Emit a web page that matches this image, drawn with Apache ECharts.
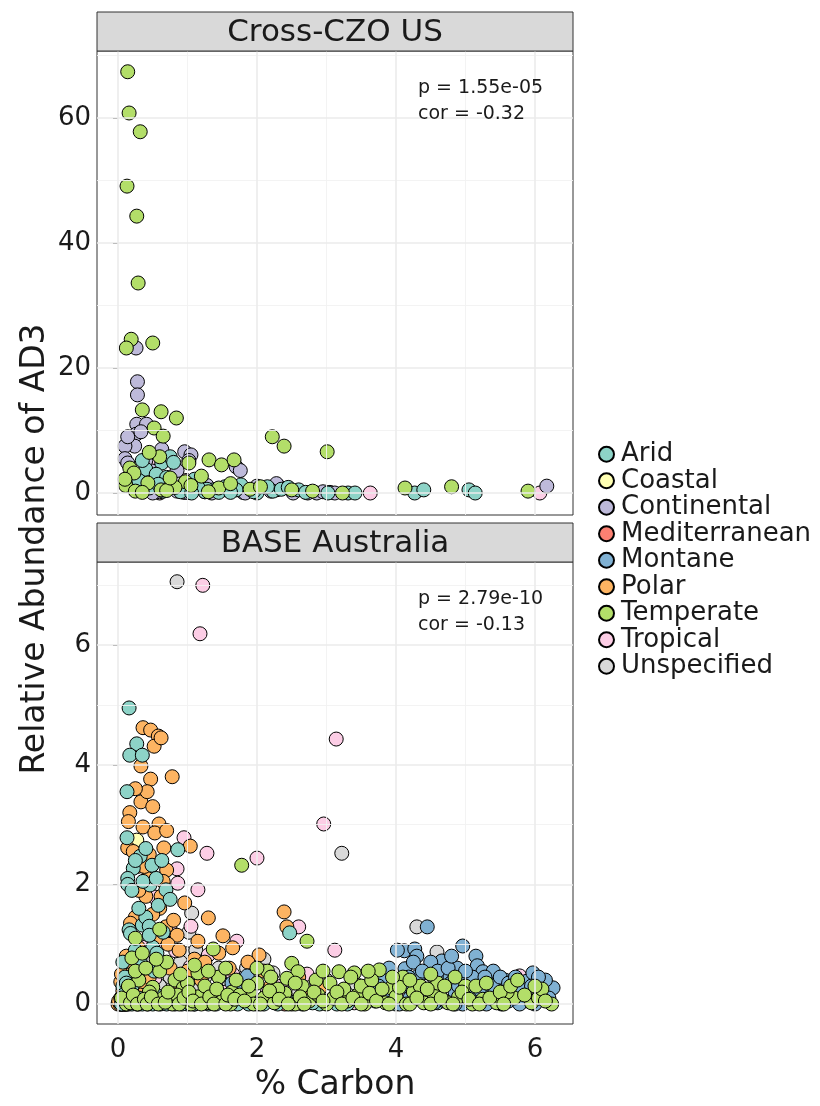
<!DOCTYPE html>
<html>
<head>
<meta charset="utf-8">
<script src="https://cdn.jsdelivr.net/npm/echarts@6/dist/echarts.min.js"></script>
<style>
  html, body { margin: 0; padding: 0; background: #ffffff; }
  #chart { width: 820px; height: 1106px; }
</style>
</head>
<body>
<div id="chart"></div>
<script>
// ---- categories, labels and ticks ----
const climates = ['Arid', 'Coastal', 'Continental', 'Mediterranean', 'Montane', 'Polar', 'Temperate', 'Tropical', 'Unspecified'];
const climateColors = ['#8DD3C7', '#FFFFB3', '#BEBADA', '#FB8072', '#80B1D3', '#FDB462', '#B3DE69', '#FCCDE5', '#D9D9D9'];
const facetTitles = ['Cross-CZO US', 'BASE Australia'];
const statLines = [['p = 1.55e-05', 'cor = -0.32'], ['p = 2.79e-10', 'cor = -0.13']];
const xTitle = '% Carbon';
const yTitle = 'Relative Abundance of AD3';
const xMajor = [0, 2, 4, 6];
const xMinor = [1, 3, 5];
const czoYMajor = [0, 20, 40, 60];
const czoYMinor = [10, 30, 50, 70];
const baseYMajor = [0, 2, 4, 6];
const baseYMinor = [1, 3, 5, 7];

// ---- Cross-CZO US samples: [% carbon, relative abundance] ----
const czoArid = [[0.63,4.8],[0.75,5.8],[0.40,3.8],[0.35,5.2],[0.55,3.0],[0.70,2.5],[0.89,0.5],[0.95,1.0],[1.10,2.2],[1.37,0.5],[1.54,1.0],[1.77,1.3],[1.25,0.2],[1.45,0.1],[1.70,0.5],[2.00,0.0],[2.23,0.3],[2.35,0.6],[2.60,0.5],[2.70,0.1],[3.02,0.0],[3.31,0.0],[3.41,0.0],[4.27,0.0],[4.40,0.5],[5.05,0.5],[5.14,0.0],[0.65,0.3],[0.90,0.2],[1.95,0.2],[1.28,0.6],[0.45,0.8],[2.45,0.9],[1.15,0.9],[0.30,2.0],[0.58,1.4],[0.80,4.9],[1.62,0.1],[1.06,0.0],[2.15,1.0]];
const czoContinental = [[0.26,23.2],[0.28,17.8],[0.28,15.7],[0.27,11.0],[0.26,9.4],[0.24,7.5],[0.10,7.5],[0.14,9.0],[0.41,11.0],[0.63,7.0],[0.10,5.5],[0.14,4.8],[0.40,5.2],[0.50,3.5],[0.18,2.5],[0.85,3.6],[0.96,6.6],[1.05,6.1],[1.02,5.2],[0.72,5.5],[1.28,1.2],[1.55,0.5],[1.80,0.1],[1.95,0.5],[2.28,1.5],[2.52,0.0],[2.73,0.0],[2.86,0.0],[3.05,0.1],[1.70,4.2],[1.76,3.6],[0.30,0.4],[0.60,0.2],[1.00,0.1],[1.35,0.0],[2.00,1.1],[1.83,0.0],[6.17,1.1],[0.85,0.3],[0.50,0.0],[2.95,0.2],[3.12,0.0],[2.20,0.3],[0.33,9.8],[0.45,2.0]];
const czoTemperate = [[0.14,67.4],[0.16,60.8],[0.32,57.8],[0.13,49.1],[0.27,44.3],[0.29,33.6],[0.19,24.6],[0.12,23.2],[0.50,24.0],[0.35,13.3],[0.62,13.0],[0.84,12.0],[0.52,10.4],[0.65,9.1],[0.17,4.0],[0.23,3.2],[0.60,5.8],[1.02,4.8],[1.31,5.3],[1.49,4.5],[1.67,5.3],[2.22,9.0],[2.39,7.5],[3.01,6.6],[0.11,1.2],[0.25,0.3],[0.43,1.6],[0.62,0.5],[0.97,1.8],[1.20,2.7],[0.82,0.9],[1.05,1.2],[1.45,0.8],[1.90,0.6],[2.50,0.5],[3.23,0.0],[4.13,0.8],[4.80,1.0],[5.90,0.3],[0.35,0.1],[0.70,0.4],[1.30,0.2],[1.62,1.5],[2.05,1.0],[2.80,0.3],[0.10,2.2],[0.45,6.5],[0.75,2.4]];
const czoTropical = [[0.40,3.2],[0.48,5.5],[0.98,2.0],[1.25,0.2],[0.60,0.0],[2.30,1.2],[2.28,0.5],[3.63,0.0],[6.07,0.0],[0.95,0.1],[1.80,0.3],[0.30,0.5]];

// ---- BASE Australia samples: [% carbon, relative abundance] ----
const baseArid = [[0.16,4.95],[0.27,4.35],[0.17,4.16],[0.35,4.16],[0.13,3.55],[0.13,2.78],[0.32,2.47],[0.86,2.58],[0.22,2.27],[0.14,2.10],[0.14,2.00],[0.49,2.32],[0.63,2.40],[0.46,1.99],[0.69,1.91],[0.35,1.32],[0.16,1.24],[0.18,1.18],[0.07,0.70],[0.32,0.70],[2.47,1.19],[0.50,0.95],[0.56,0.85],[0.20,0.28],[0.07,0.30],[0.10,0.00],[0.27,0.00],[0.43,0.00],[0.61,0.00],[0.82,0.00],[1.00,0.00],[1.41,0.00],[1.88,0.00],[2.52,0.02],[3.15,0.00],[3.70,0.05],[0.30,0.10],[0.55,0.15],[1.20,0.05],[2.10,0.00],[2.90,0.00],[0.40,1.45],[0.58,1.65],[0.25,2.40],[0.45,1.30],[0.52,0.55],[4.60,0.02],[0.20,0.05],[0.36,2.05],[0.10,0.45],
  [0.05,0.00],[0.15,0.00],[0.20,0.00],[0.35,0.00],[0.50,0.00],[0.70,0.00],[0.92,0.00],[1.10,0.00],[1.30,0.00],[1.55,0.02],[1.72,0.00],[2.00,0.00],[2.30,0.00],[2.65,0.00],[2.80,0.02],[3.30,0.00],[3.50,0.05],[4.00,0.00],[0.08,0.15],[0.12,0.35],[0.25,0.90],[0.30,1.60],[0.40,2.60],[0.20,1.90],[0.55,2.10],[0.65,1.20],[0.75,1.75],[0.45,1.15]];
const baseCoastal = [[0.27,2.74],[0.05,0.00],[0.50,0.05],[1.00,0.02],[2.50,0.00]];
const baseMediterranean = [[0.06,0.00],[0.30,0.00],[1.10,0.00],[2.40,0.00]];
const baseMontane = [[4.45,1.29],[4.12,0.89],[4.27,0.92],[4.66,0.72],[4.96,0.97],[5.15,0.80],[5.17,0.64],[5.25,0.54],[5.25,0.37],[4.13,0.59],[4.32,0.47],[4.10,0.30],[4.53,0.59],[4.88,0.60],[4.73,0.49],[4.95,0.40],[4.79,0.35],[4.66,0.28],[3.84,0.45],[5.47,0.38],[5.57,0.40],[5.68,0.27],[5.53,0.15],[5.88,0.38],[5.97,0.52],[6.07,0.15],[6.26,0.27],[6.00,0.00],[5.71,0.12],[5.52,0.00],[4.96,0.00],[1.64,0.35],[1.86,0.47],[3.83,0.45],[4.40,0.20],[4.58,0.45],[4.85,0.20],[5.05,0.25],[5.35,0.20],[5.62,0.05],[5.80,0.25],[4.20,0.10],[4.70,0.05],[3.95,0.15],[5.10,0.45],[5.40,0.55],[4.50,0.70],[4.30,0.80],[5.90,0.05],[3.75,0.30],[4.05,0.00],[3.60,0.10],[6.15,0.40],[5.30,0.00],
  [3.90,0.60],[4.02,0.90],[4.18,0.45],[4.25,0.70],[4.38,0.55],[4.45,0.10],[4.60,0.55],[4.62,0.15],[4.75,0.60],[4.80,0.80],[4.90,0.30],[5.00,0.55],[5.08,0.15],[5.20,0.25],[5.28,0.45],[5.40,0.30],[5.45,0.10],[5.50,0.45],[5.62,0.35],[5.72,0.45],[5.85,0.10],[5.95,0.30],[6.05,0.45],[6.20,0.10],[4.55,0.02],[4.85,0.00],[5.15,0.02],[5.78,0.00],[3.70,0.20],[1.75,0.25]];
const basePolar = [[0.36,4.62],[0.47,4.58],[0.58,4.48],[0.52,4.31],[0.33,3.98],[0.47,3.76],[0.78,3.80],[0.33,3.38],[0.17,3.20],[0.36,2.96],[0.59,3.01],[0.53,2.86],[0.14,2.61],[0.22,2.55],[0.66,2.61],[1.04,2.64],[0.70,2.24],[0.42,2.10],[0.96,1.69],[1.30,1.44],[0.69,1.29],[0.85,1.15],[1.51,1.14],[1.65,0.94],[2.03,0.82],[1.87,0.70],[0.29,0.95],[0.04,0.37],[0.14,0.48],[2.39,1.54],[2.43,1.29],[0.60,1.60],[0.25,1.45],[0.75,0.60],[1.20,0.40],[0.10,0.15],[0.02,0.00],[0.05,0.02],[0.08,0.00],[0.12,0.05],[0.00,0.00],[0.18,0.10],[0.35,0.30],[0.90,0.25],[1.40,0.10],[2.20,0.30],[2.70,0.10],[0.45,0.45],[0.65,2.05],[0.80,1.40],[0.55,1.10],[0.20,0.70],[0.40,1.80],[1.10,0.75],[0.62,4.45],[0.15,3.05],[0.28,2.30],[0.05,0.50],[0.22,0.20],
  [0.03,0.00],[0.06,0.00],[0.09,0.02],[0.11,0.00],[0.13,0.00],[0.15,0.02],[0.01,0.05],[0.04,0.10],[0.07,0.22],[0.12,0.80],[0.18,1.35],[0.30,1.90],[0.38,2.30],[0.45,2.50],[0.50,1.50],[0.62,1.80],[0.72,1.00],[0.88,0.90],[1.00,0.55],[1.15,1.05],[1.25,0.70],[1.45,0.85],[1.60,0.60],[1.75,0.30],[2.10,0.55],[2.30,0.15],[2.60,0.45],[2.90,0.25],[3.10,0.10],[0.50,3.30],[0.42,3.55],[0.70,2.90],[0.25,3.60],[0.28,0.45],[0.32,0.15]];
const baseTemperate = [[1.78,2.32],[0.20,0.77],[1.15,0.52],[2.50,0.68],[2.59,0.54],[2.43,0.43],[2.72,1.05],[0.82,0.40],[1.37,0.92],[0.94,0.27],[0.50,0.28],[1.90,0.20],[1.64,0.20],[3.18,0.54],[3.40,0.52],[3.76,0.57],[3.93,0.27],[0.12,0.00],[0.35,0.03],[0.55,0.05],[0.65,0.10],[0.78,0.00],[0.90,0.08],[1.05,0.00],[1.15,0.12],[1.28,0.02],[1.50,0.05],[1.62,0.00],[1.75,0.15],[1.95,0.00],[2.10,0.10],[2.25,0.02],[2.40,0.18],[2.55,0.00],[2.75,0.05],[2.88,0.15],[3.00,0.00],[3.10,0.10],[3.30,0.05],[3.45,0.15],[3.55,0.00],[3.85,0.02],[4.00,0.12],[4.15,0.00],[4.25,0.20],[4.40,0.02],[4.55,0.15],[4.75,0.02],[4.90,0.12],[5.10,0.00],[5.25,0.08],[5.45,0.02],[5.70,0.10],[5.95,0.02],[6.05,0.10],[6.24,0.00],[0.30,0.40],[0.60,0.55],[0.45,0.20],[1.00,0.35],[1.25,0.30],[1.45,0.45],[2.00,0.35],[2.15,0.55],[2.30,0.25],[2.65,0.30],[2.85,0.40],[3.05,0.35],[3.25,0.25],[3.50,0.30],[3.65,0.40],[4.10,0.45],[4.35,0.30],[4.60,0.35],[5.00,0.30],[5.60,0.20],[6.10,0.25],[0.05,0.10],[0.15,0.30],[0.25,0.55],[0.70,0.70],[1.10,0.65],[1.55,0.60],[2.00,0.60],[3.35,0.45],[4.85,0.45],[0.40,0.60],[0.85,0.15],
  [0.18,0.02],[0.22,0.15],[0.28,0.00],[0.38,0.08],[0.42,0.00],[0.48,0.12],[0.58,0.00],[0.68,0.03],[0.72,0.20],[0.88,0.00],[0.95,0.10],[1.02,0.20],[1.08,0.05],[1.20,0.00],[1.32,0.12],[1.38,0.00],[1.42,0.25],[1.55,0.00],[1.58,0.15],[1.68,0.08],[1.82,0.05],[1.88,0.30],[2.05,0.00],[2.18,0.22],[2.32,0.08],[2.45,0.00],[2.62,0.12],[2.68,0.00],[2.82,0.20],[2.95,0.05],[3.15,0.20],[3.22,0.00],[3.38,0.10],[3.50,0.00],[3.62,0.18],[3.72,0.05],[3.80,0.25],[3.90,0.00],[4.05,0.28],[4.20,0.00],[4.30,0.10],[4.45,0.25],[4.50,0.00],[4.65,0.10],[4.70,0.30],[4.82,0.00],[4.95,0.20],[5.05,0.08],[5.15,0.30],[5.20,0.00],[5.35,0.10],[5.50,0.20],[5.55,0.00],[5.65,0.30],[5.85,0.15],[6.00,0.30],[6.15,0.05],
  [0.35,0.85],[0.55,0.75],[0.90,0.50],[1.30,0.55],[1.70,0.40],[2.20,0.45],[2.55,0.35],[2.95,0.55],[3.60,0.55],[3.95,0.45],[4.20,0.40],[4.50,0.50],[5.30,0.35],[5.75,0.40],[0.60,1.25],[0.25,1.10]];
const baseTropical = [[1.22,7.00],[1.18,6.19],[3.14,4.43],[2.96,3.01],[2.00,2.44],[1.28,2.52],[0.95,2.78],[0.85,2.26],[0.86,2.02],[0.52,1.79],[1.15,1.91],[1.71,1.05],[3.12,0.90],[2.60,1.29],[0.68,1.04],[0.83,0.89],[0.45,0.54],[0.53,0.43],[1.30,0.82],[1.04,0.62],[2.72,0.50],[5.78,0.47],[0.65,1.04],[4.45,0.05],[1.90,0.10],[3.40,0.02],[0.30,0.05],[2.35,0.30],[5.20,0.10],[3.70,0.20],[4.80,0.05],[1.55,0.20],
  [0.35,0.95],[0.60,0.65],[0.75,1.25],[1.05,1.30],[0.95,0.35],[2.15,0.20],[2.80,0.10],[1.65,0.50],[4.10,0.15],[0.20,0.20]];
const baseUnspecified = [[0.85,7.06],[3.22,2.52],[1.06,1.52],[1.02,1.20],[0.99,0.84],[1.37,0.90],[1.58,0.54],[1.93,0.52],[2.23,0.52],[2.86,0.35],[1.18,0.27],[3.41,0.35],[4.30,1.29],[4.59,0.87],[0.90,0.70],[0.10,0.00],[0.25,0.05],[1.60,0.30],[2.60,0.20],[3.80,0.10],[4.20,0.05],[0.75,0.45],[0.40,0.20],[1.45,0.60],[5.00,0.10],
  [0.02,0.02],[0.60,0.30],[1.25,0.45],[1.75,0.10],[2.10,0.75],[2.45,0.05],[3.00,0.40],[3.60,0.25],[4.40,0.30],[4.90,0.35],[5.50,0.15],[0.50,0.70],[1.12,0.90],[1.85,0.60]];

// drawing order inside each panel (later entries sit on top)
const czoLayers = [['Tropical', czoTropical], ['Continental', czoContinental], ['Arid', czoArid], ['Temperate', czoTemperate]];
const baseLayers = [['Coastal', baseCoastal], ['Mediterranean', baseMediterranean], ['Unspecified', baseUnspecified], ['Tropical', baseTropical], ['Polar', basePolar], ['Arid', baseArid], ['Montane', baseMontane], ['Temperate', baseTemperate]];

// ---- layout ----
const FONT = '"DejaVu Sans", "Noto Sans", sans-serif';
const INK = '#1a1a1a';
const panelLeft = 97, panelWidth = 476;
const panels = [
  { stripTop: 12, top: 51, height: 464, yMin: -3.52, yMax: 70.72, yMajor: czoYMajor, yMinor: czoYMinor },
  { stripTop: 523, top: 562, height: 462, yMin: -0.334, yMax: 7.39, yMajor: baseYMajor, yMinor: baseYMinor }
];
const stripHeight = 39;

const chart = echarts.init(document.getElementById('chart'), null, { renderer: 'canvas' });

const grids = panels.map(p => ({
  left: panelLeft, top: p.top, width: panelWidth, height: p.height,
  show: true, backgroundColor: '#ffffff', borderColor: '#333333', borderWidth: 1, containLabel: false
}));

const xAxes = panels.map((p, i) => ({
  type: 'value', gridIndex: i, min: -0.302, max: 6.547,
  axisLine: { show: false },
  splitLine: { show: false },
  axisTick: { show: i === 1, customValues: xMajor, length: 5, lineStyle: { color: '#333333', width: 1 } },
  axisLabel: { show: i === 1, customValues: xMajor, fontSize: 26, color: INK, fontFamily: FONT, margin: 13 }
}));

const yAxes = panels.map((p, i) => ({
  type: 'value', gridIndex: i, min: p.yMin, max: p.yMax,
  axisLine: { show: false },
  splitLine: { show: false },
  axisTick: { show: true, customValues: p.yMajor, length: 5, lineStyle: { color: '#333333', width: 1 } },
  axisLabel: { show: true, customValues: p.yMajor, fontSize: 26, color: INK, fontFamily: FONT, margin: 6 }
}));

// grid lines, drawn underneath the points
function gridLineSeries(i) {
  const p = panels[i];
  const major = { color: '#ebebeb', width: 1.6, type: 'solid' };
  const minor = { color: '#f2f2f2', width: 0.9, type: 'solid' };
  const data = [];
  p.yMinor.forEach(v => data.push({ yAxis: v, lineStyle: minor }));
  xMinor.forEach(v => data.push({ xAxis: v, lineStyle: minor }));
  p.yMajor.forEach(v => data.push({ yAxis: v, lineStyle: major }));
  xMajor.forEach(v => data.push({ xAxis: v, lineStyle: major }));
  return {
    type: 'scatter', name: 'grid' + i, xAxisIndex: i, yAxisIndex: i, data: [], z: 1, silent: true,
    markLine: { silent: true, symbol: ['none', 'none'], label: { show: false }, animation: false, data: data }
  };
}

function pointSeries(layers, i) {
  return layers.map(([name, values]) => ({
    type: 'scatter', name: name, xAxisIndex: i, yAxisIndex: i, z: 3,
    data: values, symbol: 'circle', symbolSize: 14,
    itemStyle: { color: climateColors[climates.indexOf(name)], borderColor: '#000000', borderWidth: 1, opacity: 1 },
    emphasis: { disabled: true }, animation: false
  }));
}

const series = [gridLineSeries(0), gridLineSeries(1)]
  .concat(pointSeries(czoLayers, 0))
  .concat(pointSeries(baseLayers, 1));

// facet strips, stats, axis titles
const graphics = [];
panels.forEach((p, i) => {
  graphics.push({
    type: 'rect', shape: { x: panelLeft, y: p.stripTop, width: panelWidth, height: stripHeight },
    style: { fill: '#d9d9d9', stroke: '#333333', lineWidth: 1 }, z: 10
  });
  graphics.push({
    type: 'text', x: panelLeft + panelWidth / 2, y: p.stripTop + stripHeight / 2 + 1, z: 11,
    style: { text: facetTitles[i], fontSize: 31, fontFamily: FONT, fill: INK, align: 'center', verticalAlign: 'middle' }
  });
  graphics.push({
    type: 'text', x: 418, y: p.top + 37, z: 11,
    style: { text: statLines[i][0], fontSize: 19, fontFamily: FONT, fill: INK, align: 'left', verticalAlign: 'middle' }
  });
  graphics.push({
    type: 'text', x: 418, y: p.top + 63, z: 11,
    style: { text: statLines[i][1], fontSize: 19, fontFamily: FONT, fill: INK, align: 'left', verticalAlign: 'middle' }
  });
});
graphics.push({
  type: 'text', x: panelLeft + panelWidth / 2, y: 1085, z: 11,
  style: { text: xTitle, fontSize: 33, fontFamily: FONT, fill: INK, align: 'center', verticalAlign: 'middle' }
});
graphics.push({
  type: 'text', x: 35, y: 549, rotation: Math.PI / 2, z: 11,
  style: { text: yTitle, fontSize: 33, fontFamily: FONT, fill: INK, align: 'center', verticalAlign: 'middle' }
});

chart.setOption({
  animation: false,
  backgroundColor: '#ffffff',
  grid: grids,
  xAxis: xAxes,
  yAxis: yAxes,
  legend: {
    orient: 'vertical', left: 598, top: 441, padding: 0, data: climates,
    icon: 'circle', itemWidth: 15, itemHeight: 15, itemGap: 0,
    selectedMode: false,
    textStyle: { fontSize: 26, lineHeight: 26.5, fontFamily: FONT, color: INK, padding: [0, 0, 0, 2] }
  },
  graphic: graphics,
  series: series
});
</script>
</body>
</html>
